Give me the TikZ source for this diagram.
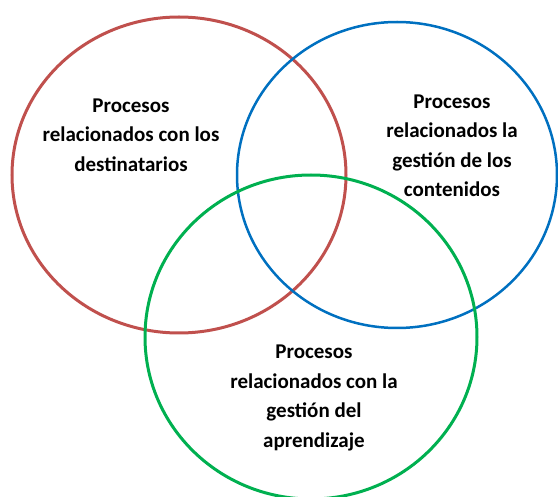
\documentclass[tikz,border=0pt]{standalone}
\usepackage{fontspec}
\setmainfont{Carlito}
\usetikzlibrary{shapes.geometric}
\definecolor{ringred}{HTML}{C0504D}
\definecolor{ringblue}{HTML}{0070C0}
\definecolor{ringgreen}{HTML}{00B050}
\tikzset{
  ring/.style={
    draw, ellipse, inner sep=0mm, line width=3pt
  },
  txt/.style={
    font=\bfseries\fontsize{21}{29.5}\selectfont, align=center, inner sep=0mm
  }
}

\begin{document}
\begin{tikzpicture}[x=1pt, y=-1pt]
  \useasboundingbox (0,0) rectangle (558,497);
  % the three sets
  \node[ring, ringred, minimum width=334pt, minimum height=316pt] (dest) at (179,175) {};
  \node[ring, ringblue, line width=2.5pt, minimum width=320pt, minimum height=306pt] (cont) at (397,175) {};
  \node[ring, ringgreen, minimum width=332pt, minimum height=324pt] (apre) at (311,337) {};

  % labels
  \node[txt] (tdest) at (131,135) {Procesos\\relacionados con los\\destinatarios};
  \node[txt] (tcont) at (452,146) {Procesos\\relacionados la\\gestión de los\\contenidos};
  \node[txt] (tapre) at (314,398) {Procesos\\relacionados con la\\gestión del\\aprendizaje};
\end{tikzpicture}
\end{document}
